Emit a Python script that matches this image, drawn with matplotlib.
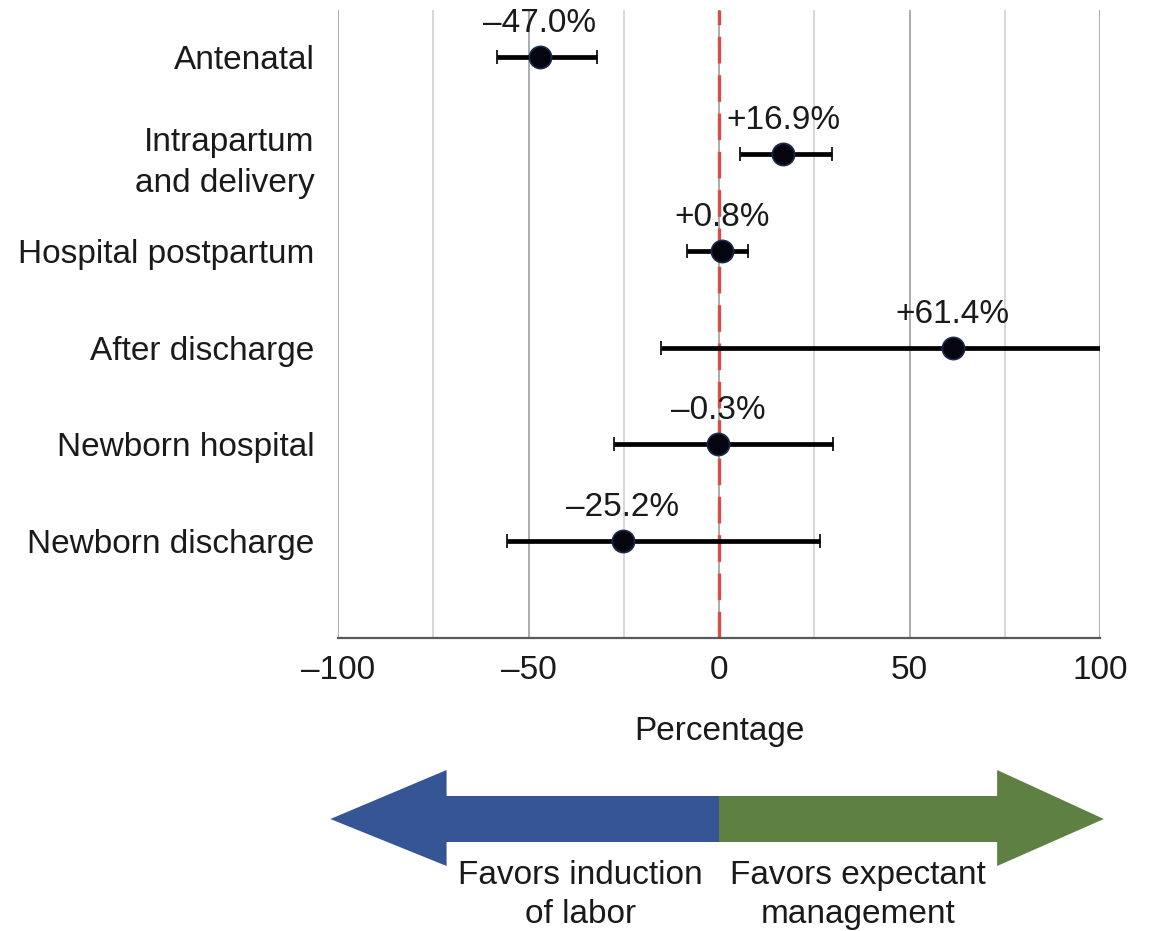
import matplotlib
matplotlib.use("Agg")
import matplotlib.pyplot as plt
from matplotlib.patches import Polygon

plt.rcParams["font.family"] = ["Liberation Sans", "DejaVu Sans"]

categories = ["Antenatal", "Intrapartum\nand delivery", "Hospital postpartum",
              "After discharge", "Newborn hospital", "Newborn discharge"]
estimate = [-47.0, 16.9, 0.8, 61.4, -0.3, -25.2]
lower = [-58.3, 5.5, -8.4, -15.2, -27.6, -55.6]
upper = [-32.0, 29.7, 7.6, 112.0, 29.9, 26.5]
value_labels = ["\u201347.0%", "+16.9%", "+0.8%", "+61.4%", "\u20130.3%", "\u201325.2%"]
major_ticks = [-100, -50, 0, 50, 100]
minor_ticks = [-75, -25, 25, 75]
tick_labels = ["\u2013100", "\u201350", "0", "50", "100"]

FS = 24
TXT = "#1a1a1a"
fig = plt.figure(figsize=(11.53, 9.31), dpi=100)
ax = fig.add_axes([338 / 1153, 1 - 638 / 931, 762 / 1153, 628 / 931])

ypos = list(range(len(categories)))
xerr = [[e - lo for e, lo in zip(estimate, lower)],
        [hi - e for e, hi in zip(estimate, upper)]]

# grid
for x in major_ticks:
    ax.axvline(x, color="#a6a6a6", lw=1.3, zorder=1)
for x in minor_ticks:
    ax.axvline(x, color="#d4d4d4", lw=1.3, zorder=1)

ax.axvline(0, color="#dc4c47", lw=2.4, ls=(0, (8, 3.5)), zorder=2)

ax.errorbar(estimate, ypos, xerr=xerr, fmt="o", color="black", ecolor="black",
            elinewidth=3.4, capsize=5, capthick=3.4, markersize=16,
            markerfacecolor="#05050f", markeredgecolor="#1c2a4d",
            markeredgewidth=1.2, zorder=3)

for e, y, lab in zip(estimate, ypos, value_labels):
    ax.annotate(lab, (e, y), xytext=(0, 13), textcoords="offset points",
                ha="center", va="bottom", fontsize=FS, color=TXT)

ax.set_xlim(-100, 100)
ax.set_ylim(6.0, -0.49)
ax.set_xticks(major_ticks)
ax.set_xticklabels(tick_labels)
ax.set_yticks(ypos)
ax.set_yticklabels(categories, ha="right", multialignment="right", linespacing=1.42)
ax.tick_params(axis="both", length=0, labelsize=FS, colors=TXT)
ax.tick_params(axis="y", pad=17)
ax.tick_params(axis="x", pad=12)
ax.set_xlabel("Percentage", fontsize=FS, color=TXT, labelpad=22)
for s in ["top", "left", "right"]:
    ax.spines[s].set_visible(False)
ax.spines["bottom"].set_color("#595959")
ax.spines["bottom"].set_linewidth(1.6)
ax.spines["bottom"].set_zorder(4)

# direction arrow below the axis
aax = fig.add_axes([338 / 1153, 0, 762 / 1153, 1 - 760 / 931])
aax.set_xlim(-100, 100)
aax.set_ylim(171, 0)
aax.axis("off")
blue = Polygon([(0, 36), (-71.5, 36), (-71.5, 10), (-102, 59), (-71.5, 106),
                (-71.5, 82), (0, 82)], closed=True, facecolor="#355594",
               edgecolor="none", clip_on=False)
green = Polygon([(0, 36), (73, 36), (73, 10), (101, 59), (73, 106),
                 (73, 82), (0, 82)], closed=True, facecolor="#5f8043",
                edgecolor="none", clip_on=False)
aax.add_patch(blue)
aax.add_patch(green)
aax.text(-4.2, 100, "Favors induction\nof labor", ha="right", va="top",
         multialignment="center", fontsize=FS, color=TXT, linespacing=1.32)
aax.text(2.9, 100, "Favors expectant\nmanagement", ha="left", va="top",
         multialignment="center", fontsize=FS, color=TXT, linespacing=1.32)

fig.savefig("out.png", dpi=100)
